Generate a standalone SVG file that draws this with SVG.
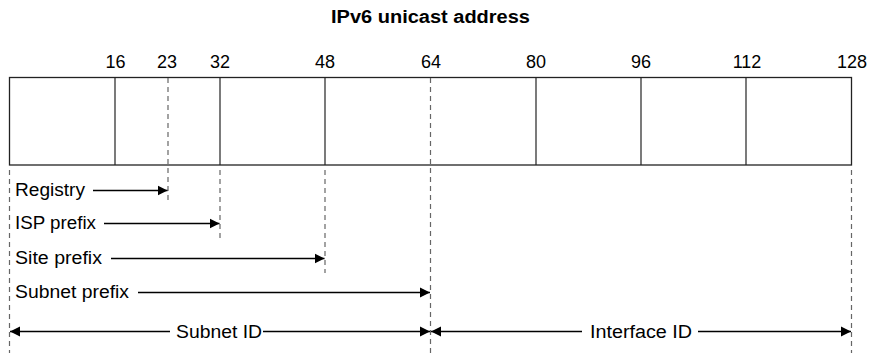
<svg xmlns="http://www.w3.org/2000/svg" width="873" height="353" viewBox="0 0 873 353">
<style>
text{font-family:"Liberation Sans",Arial,sans-serif;fill:#000}
.t{font-size:18px;font-weight:bold}
.n{font-size:18px;text-anchor:middle}
.l{font-size:18px}
.box{fill:#fff;stroke:#222;stroke-width:1.3}
.div{stroke:#222;stroke-width:1.2}
.dash{stroke:#666;stroke-width:1.2;stroke-dasharray:5 4;fill:none}
.arr{stroke:#000;stroke-width:1.3;fill:none}
</style>
<defs>
<marker id="ah" viewBox="0 0 10 10" refX="10" refY="5" markerWidth="10" markerHeight="11" markerUnits="userSpaceOnUse" orient="auto-start-reverse">
<path d="M0,0 L10,5 L0,10 Z" fill="#000"/>
</marker>
</defs>
<text class="t" x="331" y="23" textLength="199" lengthAdjust="spacingAndGlyphs">IPv6 unicast address</text>
<g id="address">
<rect class="box" x="9.5" y="77.5" width="842" height="87.5"/>
<line class="div" x1="115" y1="77.5" x2="115" y2="165"/>
<line class="div" x1="220" y1="77.5" x2="220" y2="165"/>
<line class="div" x1="325" y1="77.5" x2="325" y2="165"/>
<line class="div" x1="536" y1="77.5" x2="536" y2="165"/>
<line class="div" x1="641" y1="77.5" x2="641" y2="165"/>
<line class="div" x1="746" y1="77.5" x2="746" y2="165"/>
</g>
<g id="bit-labels">
<text class="n" x="115.5" y="68">16</text>
<text class="n" x="167" y="68">23</text>
<text class="n" x="220" y="68">32</text>
<text class="n" x="325" y="68">48</text>
<text class="n" x="431" y="68">64</text>
<text class="n" x="536" y="68">80</text>
<text class="n" x="641" y="68">96</text>
<text class="n" x="747" y="68">112</text>
<text class="n" x="852" y="68">128</text>
</g>
<g id="guides">
<line class="dash" x1="9.5" y1="170" x2="9.5" y2="353"/>
<line class="dash" x1="168" y1="78" x2="168" y2="200"/>
<line class="dash" x1="220" y1="170" x2="220" y2="238"/>
<line class="dash" x1="325" y1="170" x2="325" y2="273"/>
<line class="dash" x1="430.5" y1="78" x2="430.5" y2="353"/>
<line class="dash" x1="851.5" y1="170" x2="851.5" y2="353"/>
</g>
<g id="registry">
<text class="l" x="15" y="196" textLength="70" lengthAdjust="spacingAndGlyphs">Registry</text>
</g>
<g id="isp-prefix">
<text class="l" x="15" y="229" textLength="81" lengthAdjust="spacingAndGlyphs">ISP prefix</text>
</g>
<g id="site-prefix">
<text class="l" x="15" y="264" textLength="87" lengthAdjust="spacingAndGlyphs">Site prefix</text>
</g>
<g id="subnet-prefix">
<text class="l" x="15" y="298" textLength="114" lengthAdjust="spacingAndGlyphs">Subnet prefix</text>
</g>
<g id="subnet-id">
<text class="l" x="176" y="337.5" textLength="86" lengthAdjust="spacingAndGlyphs">Subnet ID</text>
</g>
<g id="interface-id">
<text class="l" x="590" y="337.5" textLength="102" lengthAdjust="spacingAndGlyphs">Interface ID</text>
</g>
<g id="connectors">
<line class="arr" x1="93" y1="190.5" x2="167.5" y2="190.5" marker-end="url(#ah)"/>
<line class="arr" x1="104" y1="223.5" x2="219.5" y2="223.5" marker-end="url(#ah)"/>
<line class="arr" x1="111" y1="258.5" x2="324.5" y2="258.5" marker-end="url(#ah)"/>
<line class="arr" x1="138" y1="292.5" x2="430" y2="292.5" marker-end="url(#ah)"/>
<line class="arr" x1="10" y1="331.5" x2="170" y2="331.5" marker-start="url(#ah)"/>
<line class="arr" x1="263" y1="331.5" x2="430" y2="331.5" marker-end="url(#ah)"/>
<line class="arr" x1="431" y1="331.5" x2="582" y2="331.5" marker-start="url(#ah)"/>
<line class="arr" x1="698" y1="331.5" x2="851" y2="331.5" marker-end="url(#ah)"/>
</g>
</svg>
